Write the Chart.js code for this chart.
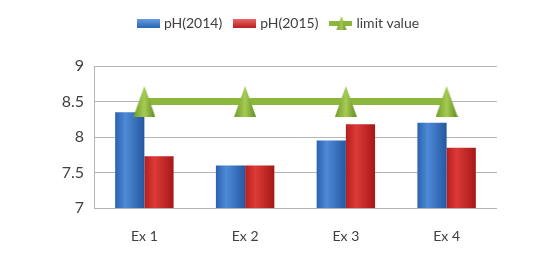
<!DOCTYPE html>
<html>
<head>
<meta charset="utf-8">
<script src="https://cdn.jsdelivr.net/npm/chart.js@4"></script>
<style>
  html, body { margin: 0; padding: 0; background: #fff; }
  #wrap { width: 546px; height: 258px; }
</style>
</head>
<body>
<div id="wrap"><canvas id="ph-chart" width="546" height="258"></canvas></div>
<script>
// data
const categories = ['Ex 1', 'Ex 2', 'Ex 3', 'Ex 4'];
const ph2014 = [8.35, 7.6, 7.95, 8.2];
const ph2015 = [7.73, 7.6, 8.18, 7.85];
const limitValue = [8.5, 8.5, 8.5, 8.5];
const yTicks = [7, 7.5, 8, 8.5, 9];

const FONT = 'Lato, "Liberation Sans", sans-serif';

// triangle marker for the limit line
function makeTriangle(w, h) {
    const c = document.createElement('canvas');
    c.width = w; c.height = h;
    const ctx = c.getContext('2d');
    const g = ctx.createLinearGradient(0, 0, w, 0);
    g.addColorStop(0, '#6f9a2a');
    g.addColorStop(0.5, '#a6cc52');
    g.addColorStop(1, '#5f8a22');
    ctx.fillStyle = g;
    ctx.beginPath();
    ctx.moveTo(w / 2, 0);
    ctx.lineTo(w, h);
    ctx.lineTo(0, h);
    ctx.closePath();
    ctx.fill();
    return c;
}

function makeBox(c1, c2) {
    const c = document.createElement('canvas');
    c.width = 23; c.height = 9;
    const ctx = c.getContext('2d');
    const g = ctx.createLinearGradient(0, 0, 0, 9);
    g.addColorStop(0, c2);
    g.addColorStop(1, c1);
    ctx.fillStyle = g;
    ctx.fillRect(0, 0, 23, 9);
    return c;
}

function makeLineIcon() {
    const c = document.createElement('canvas');
    c.width = 23; c.height = 14;
    const ctx = c.getContext('2d');
    ctx.fillStyle = '#8cb63c';
    ctx.fillRect(0, 5, 23, 5);
    ctx.drawImage(makeTriangle(10, 14), 7, 0);
    return c;
}

const triangle = makeTriangle(22, 31);
const legendIcons = [makeBox('#2d66b4', '#6aa2e6'), makeBox('#b82222', '#ee6a66'), makeLineIcon()];

// shade the bars left to right like the original
const barShade = {
    id: 'barShade',
    beforeDatasetsDraw(chart) {
        const ctx = chart.ctx;
        const shades = [
            ['#2a62b0', '#4f8ad6', '#2458a2'],
            ['#b51f1f', '#dc3a36', '#a51818']
        ];
        [0, 1].forEach(function (di) {
            const meta = chart.getDatasetMeta(di);
            meta.data.forEach(function (bar) {
                const x0 = bar.x - bar.width / 2;
                const g = ctx.createLinearGradient(x0, 0, x0 + bar.width, 0);
                g.addColorStop(0, shades[di][0]);
                g.addColorStop(0.35, shades[di][1]);
                g.addColorStop(1, shades[di][2]);
                bar.options.backgroundColor = g;
            });
        });
    }
};

// legend block is 66px tall and sits a bit right of the canvas middle
const legendPlace = {
    id: 'legendPlace',
    beforeInit(chart) {
        const fit = chart.legend.fit;
        chart.legend.fit = function () {
            fit.call(this);
            this.height = 66;
        };
    },
    afterLayout(chart) {
        chart.legend.left += 31;
        chart.legend.right += 31;
        chart.legend.top += 2;
    }
};

new Chart(document.getElementById('ph-chart'), {
    type: 'bar',
    data: {
        labels: categories,
        datasets: [{
            label: 'pH(2014)',
            data: ph2014,
            backgroundColor: function () { return '#3a78c8'; },
            order: 2
        }, {
            label: 'pH(2015)',
            data: ph2015,
            backgroundColor: function () { return '#d22f2b'; },
            order: 2
        }, {
            type: 'line',
            label: 'limit value',
            data: limitValue,
            borderColor: '#8cb63c',
            backgroundColor: '#8cb63c',
            borderWidth: 7,
            pointStyle: triangle,
            order: 1
        }]
    },
    options: {
        responsive: false,
        animation: false,
        layout: { padding: { left: 0, right: 49, top: 0, bottom: 0 } },
        datasets: {
            bar: { barPercentage: 1, categoryPercentage: 0.58 }
        },
        plugins: {
            tooltip: { enabled: false },
            legend: {
                position: 'top',
                labels: {
                    usePointStyle: true,
                    pointStyleWidth: 17,
                    padding: 14,
                    color: '#404040',
                    font: { family: FONT, size: 14 },
                    generateLabels: function (chart) {
                        return chart.data.datasets.map(function (ds, i) {
                            return {
                                text: ds.label,
                                pointStyle: legendIcons[i],
                                fontColor: '#404040',
                                lineWidth: 0,
                                datasetIndex: i
                            };
                        });
                    }
                }
            }
        },
        scales: {
            x: {
                grid: { display: false },
                border: { display: false },
                ticks: { color: '#404040', font: { family: FONT, size: 14 }, padding: 12 },
                afterFit: function (scale) { scale.height = 50; }
            },
            y: {
                min: 7,
                max: 9,
                afterBuildTicks: function (scale) {
                    scale.ticks = yTicks.map(function (v) { return { value: v }; });
                },
                grid: { color: '#b4b4b4', lineWidth: 1, drawTicks: false },
                border: { display: true, color: '#b4b4b4' },
                ticks: {
                    color: '#404040',
                    font: { family: FONT, size: 16 },
                    padding: 10,
                    callback: function (v) { return String(v); }
                },
                afterFit: function (scale) { scale.width = 94; }
            }
        }
    },
    plugins: [barShade, legendPlace]
});
</script>
</body>
</html>
